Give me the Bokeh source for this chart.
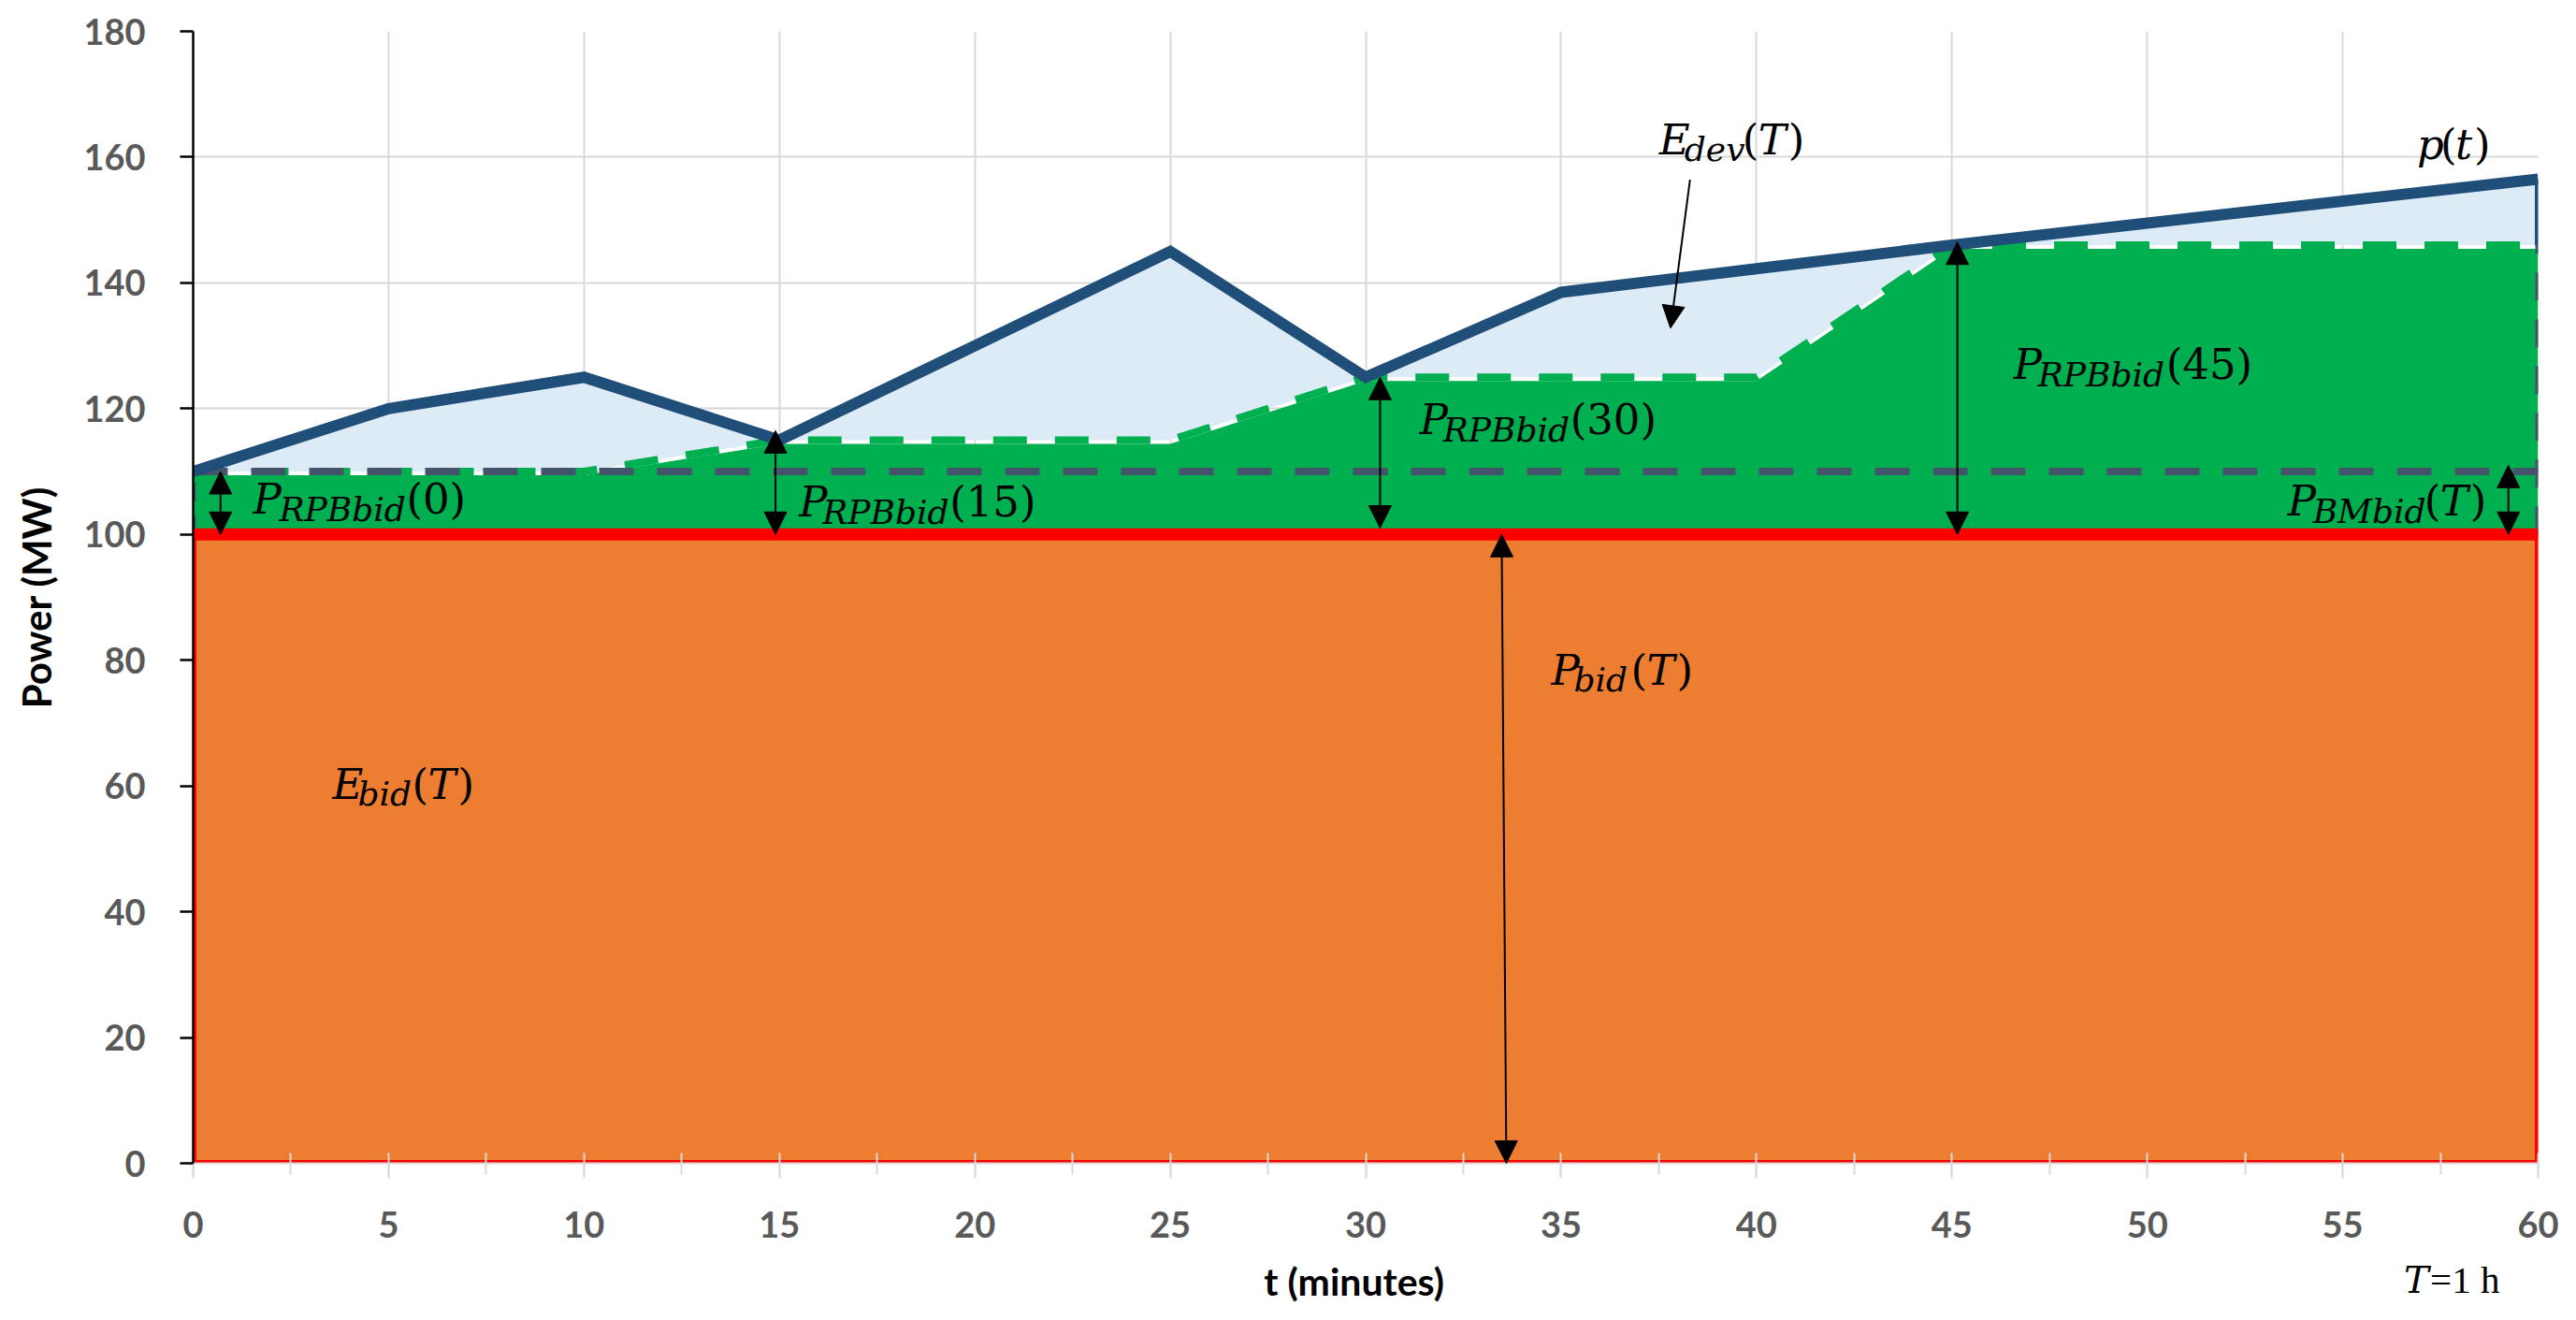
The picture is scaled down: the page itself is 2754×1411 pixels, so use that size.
import numpy as np
from bokeh.plotting import figure
from bokeh.layouts import column
from bokeh.models import Range1d, SingleIntervalTicker, Arrow, NormalHead, Label
from bokeh.core.properties import value
from bokeh.embed import file_html
from bokeh.resources import INLINE

# ---- data ----
t_p = [0, 5, 10, 15, 20, 25, 30, 35, 40, 45, 50, 55, 60]
p_t = [110, 120, 125, 115, 130, 145, 125, 138.5, 142.25, 146, 149.5, 153, 156.5]
t_rpb = [0, 10, 15, 25, 30, 40, 45, 60]
p_rpb = [110, 110, 115, 115, 125, 125, 146, 146]
P_BID = 100
P_BMBID = 10
T_START = 0
T_END = 60
x_ticks = list(range(0, 61, 5))
y_ticks = list(range(0, 181, 20))
x_title = "t (minutes)"
y_title = "Power (MW)"

# ---- colours ----
C_ORANGE = "#ED7D31"
C_RED = "#FF0000"
C_GREEN = "#00B050"
C_LBLUE = "#DDEBF7"
C_BLUE = "#1F4E79"
C_SLATE = "#44546A"
C_GRID = "#D9D9D9"
C_TICK = "#595959"

W = 2738
H_MAIN = 1343
H_CAP = 52
B_LEFT, B_RIGHT = 206, 25

p = figure(width=W, height=H_MAIN,
           x_range=Range1d(0, 60), y_range=Range1d(0, 180),
           output_backend="svg", toolbar_location=None,
           min_border_left=B_LEFT, min_border_right=B_RIGHT,
           min_border_top=33, min_border_bottom=100)
p.outline_line_color = None
p.background_fill_color = "white"

# axes
p.xaxis.ticker = SingleIntervalTicker(interval=5, num_minor_ticks=2)
p.yaxis.ticker = SingleIntervalTicker(interval=20, num_minor_ticks=0)
for ax in (p.xaxis, p.yaxis):
    ax.major_label_text_font = "Lato"
    ax.major_label_text_font_style = "bold"
    ax.major_label_text_font_size = "38px"
    ax.major_label_text_color = C_TICK
    ax.axis_label_text_font = "Lato"
    ax.axis_label_text_font_style = "bold"
    ax.axis_label_text_font_size = "42px"
    ax.axis_label_text_color = "black"

p.xaxis.axis_line_color = C_GRID
p.xaxis.axis_line_width = 2
p.xaxis.major_tick_line_color = C_GRID
p.xaxis.major_tick_line_width = 2
p.xaxis.major_tick_in = 0
p.xaxis.major_tick_out = 16
p.xaxis.minor_tick_line_color = C_GRID
p.xaxis.minor_tick_line_width = 2
p.xaxis.minor_tick_in = 11
p.xaxis.minor_tick_out = 12
p.xaxis.major_label_standoff = 35

p.yaxis.axis_label = y_title
p.yaxis.axis_line_color = "black"
p.yaxis.axis_line_width = 2.5
p.yaxis.major_tick_line_color = "black"
p.yaxis.major_tick_line_width = 2.5
p.yaxis.major_tick_in = 0
p.yaxis.major_tick_out = 14
p.yaxis.minor_tick_line_color = None
p.yaxis.major_label_standoff = 37
p.yaxis.axis_label_standoff = 22

p.xgrid.grid_line_color = C_GRID
p.xgrid.grid_line_width = 2
p.ygrid.grid_line_color = C_GRID
p.ygrid.grid_line_width = 2

# ---- areas ----
p.quad(left=[T_START], right=[T_END], bottom=[0], top=[P_BID],
       fill_color=C_ORANGE, line_color=C_RED, line_width=7)

t_all = sorted(set(t_p) | set(t_rpb))
g_all = np.interp(t_all, t_rpb, p_rpb)
p_all = np.interp(t_all, t_p, p_t)

p.varea(x=t_all, y1=g_all, y2=p_all, fill_color=C_LBLUE)
p.varea(x=t_rpb, y1=[P_BID] * len(t_rpb), y2=[v - 0.6 for v in p_rpb],
        fill_color=C_GREEN)
p.line(t_rpb, p_rpb, line_color=C_GREEN, line_width=8, line_dash="36 30")

p.line([T_START, T_END], [P_BID + P_BMBID] * 2, line_color=C_SLATE,
       line_width=8, line_dash="37 25")
p.line([T_START, T_START], [P_BID, P_BID + P_BMBID], line_color=C_SLATE,
       line_width=6, line_dash="20 15")
p.line([T_END, T_END], [P_BID, p_rpb[-1]], line_color=C_SLATE,
       line_width=6, line_dash="30 20")

p.line([T_START, T_END], [P_BID, P_BID], line_color=C_RED, line_width=13)

p.line(t_p, p_t, line_color=C_BLUE, line_width=12, line_join="miter")
p.line([T_END, T_END], [p_t[-1], p_rpb[-1]], line_color=C_BLUE, line_width=7)


# ---- arrows ----
def head():
    return NormalHead(size=24, fill_color="black", line_color="black", line_width=1)


def darrow(x0, y0, x1, y1, both=True):
    p.add_layout(Arrow(x_start=x0, y_start=y0, x_end=x1, y_end=y1,
                       line_color="black", line_width=2,
                       start=head() if both else None, end=head()))


darrow(0.7, P_BID, 0.7, p_rpb[0])
darrow(14.9, P_BID, 14.9, p_t[3] + 1.5)
darrow(30.37, P_BID + 1, 30.37, p_t[6])
darrow(45.14, P_BID, 45.14, p_rpb[-1] + 0.5)
darrow(59.24, P_BID, 59.24, P_BID + P_BMBID + 1)
darrow(33.6, 0, 33.48, P_BID)
darrow(38.3, 156.4, 37.8, 132.8, both=False)


# ---- math-like labels ----
FONT = "DejaVu Serif"
DY = 14  # baseline correction, px


def mlabel(x, y, parts):
    for txt, dx, dy, size, style in parts:
        p.add_layout(Label(x=x, y=y, x_offset=dx, y_offset=dy + DY, text=txt,
                           text_font=FONT, text_font_size=f"{size}px",
                           text_font_style=style, text_color="black",
                           text_baseline="alphabetic", text_align="left"))


M, S = 45, 36


def rpb(x, y, arg, sub_dx=26, par_dx=165):
    mlabel(x, y, [("P", 0, 0, M, "italic"),
                  ("RPBbid", sub_dx, -11, S, "italic"),
                  (f"({arg})", par_dx, 0, M, "normal")])


def with_T(x, y, main, sub, sub_dx, par_dx, sub_dy=-10):
    mlabel(x, y, [(main, 0, 0, M, "italic"),
                  (sub, sub_dx, sub_dy, S, "italic"),
                  ("(", par_dx, 0, M, "normal"),
                  ("T", par_dx + 17, 0, M, "italic"),
                  (")", par_dx + 49, 0, M, "normal")])


rpb(1.53, 103.5, "0", 28, 164)
rpb(15.5, 103.1, "15", 25, 161)
rpb(31.38, 116.2, "30", 25, 161)
rpb(46.58, 124.96, "45", 26, 163)
with_T(53.59, 103.24, "P", "BMbid", 27, 146, -11)
with_T(34.75, 76.32, "P", "bid", 24, 85)
with_T(3.566, 58.17, "E", "bid", 27, 85)
with_T(37.51, 160.6, "E", "dev", 27, 89)

mlabel(56.9, 159.9, [("p", 0, 0, M, "italic"), ("(", 25, 0, M, "normal"),
                     ("t", 41, 0, M, "italic"), (")", 61, 0, M, "normal")])

# ---- caption strip below the axis: x title and period note ----
main_frame_w = W - B_LEFT - B_RIGHT
cap_frame_w = W - B_LEFT
cap_x_end = T_START + (T_END - T_START) * cap_frame_w / main_frame_w
cap = figure(width=W, height=H_CAP, x_range=Range1d(T_START, cap_x_end),
             y_range=Range1d(0, 1),
             output_backend="svg", toolbar_location=None,
             x_axis_type=None, y_axis_type=None,
             min_border_left=B_LEFT, min_border_right=0,
             min_border_top=0, min_border_bottom=0)
cap.outline_line_color = None
cap.xgrid.visible = False
cap.ygrid.visible = False
cap.text(x=[(T_START + T_END) / 2], y=[0.5], text=[x_title],
         text_font=value("Lato"), text_font_style="bold",
         text_font_size="41px", text_color="black",
         text_align="center", text_baseline="middle")
cap.text(x=[57.13], y=[0.52], text=["T"], text_font=value(FONT),
         text_font_style="italic", text_font_size="40px", text_color="black",
         text_align="left", text_baseline="middle")
cap.text(x=[57.13], y=[0.52], x_offset=28, text=["=1 h"],
         text_font=value("Liberation Serif"),
         text_font_style="normal", text_font_size="41px", text_color="black",
         text_align="left", text_baseline="middle")

layout = column(p, cap, spacing=0)
open("out.html", "w").write(file_html(layout, INLINE))
